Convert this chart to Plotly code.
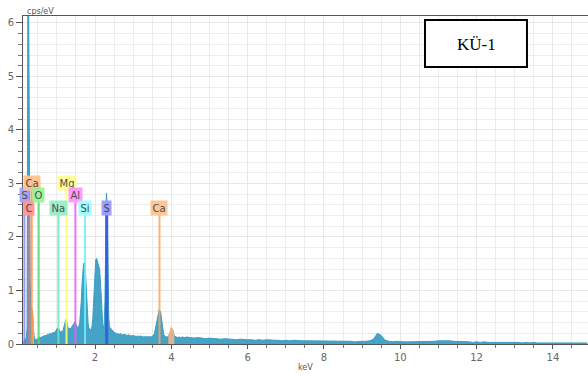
import plotly.graph_objects as go

# ---------------- data ----------------
# spectrum segment A: 0.12 keV onward, 0.02 keV channels
start_a, step_a = 0.12, 0.02
cps_a = [0.04, 0.05, 0.08, 0.10, 0.12, 0.30, 6.5, 6.5, 2.3, 1.2,
         0.60, 0.65, 0.62, 0.35, 0.15, 0.10, 0.08, 0.08, 0.09, 0.10,
         0.12, 0.13, 0.12, 0.12, 0.13, 0.14, 0.15, 0.14, 0.16, 0.15,
         0.17, 0.16, 0.18, 0.17, 0.19, 0.18, 0.20, 0.19, 0.21, 0.20,
         0.22, 0.21, 0.24, 0.26, 0.28, 0.30, 0.29, 0.26, 0.24, 0.22,
         0.24, 0.23, 0.25, 0.30, 0.38, 0.44, 0.46, 0.42, 0.34, 0.28,
         0.27, 0.30, 0.28, 0.30, 0.32, 0.34, 0.38, 0.40, 0.42, 0.38,
         0.32, 0.30, 0.32, 0.34, 0.40, 0.55, 0.80, 1.10, 1.35, 1.50,
         1.52, 1.45, 1.20, 0.85, 0.55, 0.38, 0.30, 0.27, 0.26, 0.28,
         0.32, 0.45, 0.80, 1.20, 1.50, 1.58, 1.60, 1.55, 1.50, 1.48,
         1.40, 1.20, 0.90, 0.60, 0.40, 0.30, 0.35, 0.80, 2.20, 2.82,
         2.60, 1.40, 0.50, 0.32, 0.30, 0.28, 0.27, 0.25, 0.24, 0.22,
         0.21, 0.20, 0.20, 0.19, 0.19]
# segment B: 2.64 keV onward, 0.04 keV channels
start_b, step_b = 2.64, 0.04
cps_b = [0.18, 0.19, 0.17, 0.18, 0.17, 0.16, 0.17, 0.16, 0.15, 0.16,
         0.15, 0.14, 0.15, 0.14, 0.15, 0.14, 0.13, 0.14, 0.13, 0.14,
         0.13, 0.14, 0.15, 0.20, 0.35, 0.55, 0.64, 0.60, 0.35, 0.18,
         0.14, 0.13, 0.14, 0.20, 0.30, 0.25, 0.15, 0.13, 0.12, 0.13,
         0.12, 0.13, 0.12, 0.12, 0.13]
# segment C: 4.5 keV onward, 0.1 keV channels
start_c, step_c = 4.5, 0.1
cps_c = [0.12, 0.11, 0.12, 0.11, 0.10, 0.11, 0.10, 0.10, 0.09, 0.10,
         0.09, 0.09, 0.08, 0.09, 0.08, 0.08, 0.08, 0.07, 0.08, 0.07,
         0.08, 0.07, 0.07, 0.07, 0.06, 0.07, 0.06, 0.07, 0.06, 0.06,
         0.06, 0.06, 0.05, 0.06, 0.05, 0.06, 0.05, 0.05, 0.05, 0.06,
         0.05, 0.05, 0.05, 0.04, 0.05, 0.05, 0.05, 0.06, 0.09, 0.20,
         0.16, 0.07, 0.05, 0.04, 0.05, 0.04, 0.04, 0.04, 0.04, 0.05,
         0.04, 0.04, 0.05, 0.05, 0.05, 0.06, 0.06, 0.07, 0.06, 0.05,
         0.05, 0.04, 0.04, 0.04, 0.03, 0.04, 0.03, 0.04, 0.03, 0.03,
         0.04, 0.03, 0.03, 0.03, 0.03, 0.03, 0.03, 0.02, 0.03, 0.02,
         0.03, 0.02, 0.02, 0.02, 0.03, 0.02, 0.02, 0.02, 0.02, 0.02,
         0.02, 0.02, 0.02, 0.02, 0.02]

# Ca-coloured parts of the spectrum
ca_l_kev = [0.32, 0.34, 0.36, 0.38, 0.40]
ca_l_cps = [0.60, 0.65, 0.62, 0.35, 0.15]
ca_kb_kev = [3.92, 3.96, 4.00, 4.04, 4.08]
ca_kb_cps = [0.14, 0.20, 0.32, 0.25, 0.15]

# element markers
elements = ["S", "Ca", "C", "O", "Na", "Mg", "Al", "Si", "S", "Ca"]
line_kev = [0.149, 0.341, 0.277, 0.525, 1.041, 1.253, 1.486, 1.739, 2.307, 3.690]
label_y = [2.78, 3.00, 2.55, 2.78, 2.55, 3.00, 2.78, 2.55, 2.55, 2.55]
line_colors = ["rgba(120,120,255,0.75)", "rgba(255,140,50,0.8)", "rgba(255,110,110,0.7)",
               "rgba(80,215,120,0.85)", "rgba(110,230,180,0.85)", "rgba(255,255,110,0.9)",
               "rgba(245,90,245,0.85)", "rgba(110,240,255,0.9)", "rgba(50,90,225,0.9)",
               "rgba(255,165,90,0.85)"]
box_colors = ["#a4a4ff", "#ffc18c", "#ff9696", "#96f596", "#96efc8", "#ffff96",
              "#ff96ff", "#9cffff", "#9a9aff", "#ffc493"]

x_ticks = [2, 4, 6, 8, 10, 12, 14]
y_ticks = [0, 1, 2, 3, 4, 5, 6]

# ---------------- figure ----------------
kev = ([round(start_a + step_a * i, 3) for i in range(len(cps_a))] +
       [round(start_b + step_b * i, 3) for i in range(len(cps_b))] +
       [round(start_c + step_c * i, 3) for i in range(len(cps_c))])
cps = cps_a + cps_b + cps_c

teal = "#3a9ec4"
fig = go.Figure()
fig.add_trace(go.Scatter(x=kev, y=cps, mode="lines", fill="tozeroy",
                         line=dict(color=teal, width=1), fillcolor="rgba(58,158,196,0.95)",
                         hoverinfo="skip"))
fig.add_trace(go.Scatter(x=ca_l_kev, y=ca_l_cps, mode="lines", fill="tozeroy",
                         line=dict(color="rgba(255,170,100,0.9)", width=1),
                         fillcolor="rgba(255,175,110,0.85)"))
fig.add_trace(go.Scatter(x=ca_kb_kev, y=ca_kb_cps, mode="lines", fill="tozeroy",
                         line=dict(color="rgba(255,180,120,0.9)", width=1),
                         fillcolor="rgba(255,185,130,0.8)"))

for el, e, ly, lc, bc in zip(elements, line_kev, label_y, line_colors, box_colors):
    w = 3 if (el == "S" and e > 1) else 2
    fig.add_trace(go.Scatter(x=[e, e], y=[0, ly], mode="lines",
                             line=dict(color=lc, width=w), hoverinfo="skip"))
    fig.add_annotation(x=e, y=ly, text=el, showarrow=False, xref="x", yref="y",
                       xanchor="center", yanchor="middle",
                       font=dict(family="DejaVu Sans", size=10, color="#444"),
                       bgcolor=bc, borderpad=1.5, opacity=0.95)

fig.add_annotation(xref="paper", yref="paper", x=0.004, y=1, xanchor="left", yanchor="bottom",
                   text="cps/eV", showarrow=False, yshift=-2,
                   font=dict(family="DejaVu Sans", size=8, color="#555"))
fig.add_annotation(xref="paper", yref="paper", x=0.5, y=0, xanchor="center", yanchor="top",
                   text="keV", showarrow=False, yshift=-17,
                   font=dict(family="DejaVu Sans", size=8, color="#555"))

# sample label box
fig.add_shape(type="rect", xref="paper", yref="paper", x0=0.7115, x1=0.892, y0=0.8445, y1=0.988,
              line=dict(color="black", width=2), fillcolor="white", layer="above")
fig.add_annotation(xref="paper", yref="paper", x=0.8018, y=0.9146, text="KÜ-1", showarrow=False,
                   xanchor="center", yanchor="middle",
                   font=dict(family="Liberation Serif", size=17, color="black"))

fig.update_layout(
    width=588, height=376, showlegend=False,
    margin=dict(l=23, r=0, t=16, b=32, autoexpand=False),
    paper_bgcolor="white", plot_bgcolor="white",
    xaxis=dict(range=[0.113, 14.92], tickvals=x_ticks, ticktext=[str(v) for v in x_ticks],
               automargin=False,
               showgrid=True, gridcolor="#e8e8e8", gridwidth=1,
               ticks="outside", ticklen=4, tickcolor="#555",
               showline=True, linecolor="#555", linewidth=1, mirror=True, zeroline=False,
               tickfont=dict(family="DejaVu Sans", size=10, color="#666"),
               minor=dict(dtick=0.5, tick0=0, showgrid=True, gridcolor="#ececec",
                          ticks="outside", ticklen=3, tickcolor="#777")),
    yaxis=dict(range=[0, 6.13], tickvals=y_ticks, ticktext=[str(v) for v in y_ticks],
               automargin=False,
               showgrid=True, gridcolor="#e8e8e8", gridwidth=1,
               ticks="outside", ticklen=6, tickcolor="#555",
               showline=True, linecolor="#555", linewidth=1, zeroline=False,
               tickfont=dict(family="DejaVu Sans", size=10, color="#666"),
               minor=dict(dtick=0.2, tick0=0, showgrid=True, gridcolor="#ececec",
                          ticks="outside", ticklen=4, tickcolor="#777")),
)

fig.write_html("out.html", config={"displayModeBar": False},
               post_script="document.body.style.margin='0';document.body.style.overflow='hidden';")
